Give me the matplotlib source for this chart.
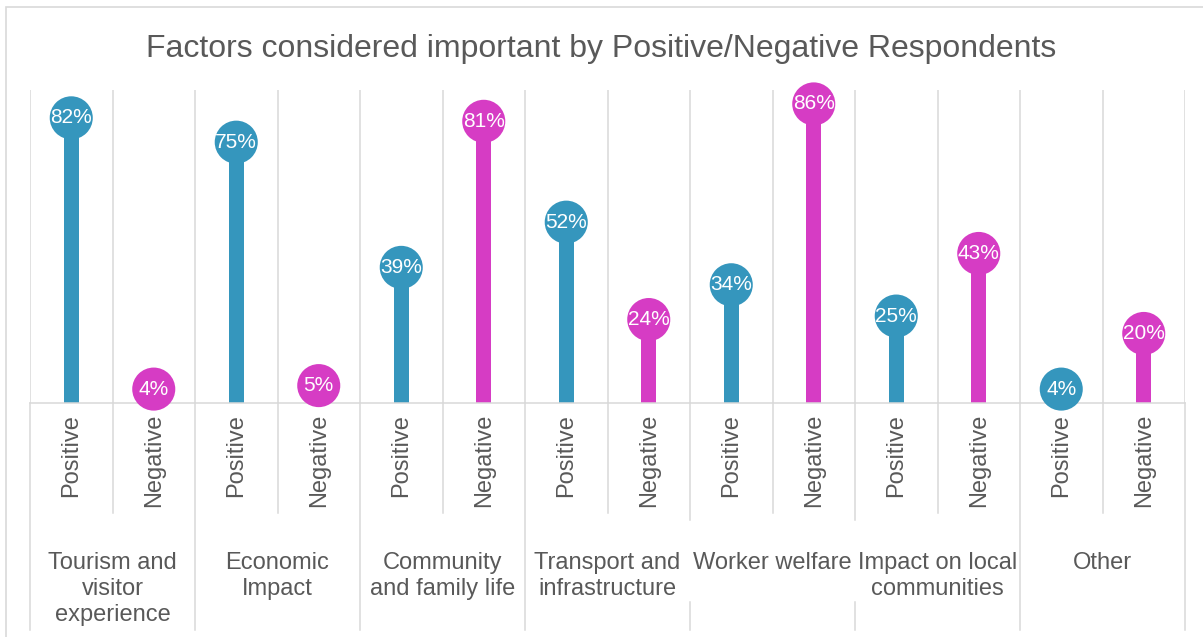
import matplotlib.pyplot as plt
import numpy as np
from matplotlib.patches import Rectangle

plt.rcParams['font.family'] = ['Liberation Sans', 'DejaVu Sans']

categories = ["Tourism and\nvisitor\nexperience", "Economic\nImpact",
              "Community\nand family life", "Transport and\ninfrastructure",
              "Worker welfare", "Impact on local\ncommunities", "Other"]
groups = ["Positive", "Negative"]
positive = [82, 75, 39, 52, 34, 25, 4]
negative = [4, 5, 81, 24, 86, 43, 20]

blue = '#3596BD'
magenta = '#D63CC4'
grid_c = '#D9D9D9'
text_c = '#595959'

values = []
labels = []
colors = []
for p, n in zip(positive, negative):
    values += [p, n]
    labels += groups
    colors += [blue, magenta]
x = np.arange(len(values)) + 0.5

fig = plt.figure(figsize=(12.03, 6.37), dpi=100)
ax = fig.add_axes([30 / 1203, 1 - 403 / 637, (1185 - 30) / 1203, (403 - 90) / 637])
ax.set_xlim(0, len(values))
ax.set_ylim(0, 90)

# outer border of the chart area
fig.patches.append(Rectangle((6 / 1203, -0.1), 1.2, 1.1 - 7 / 637,
                             transform=fig.transFigure, fill=False,
                             edgecolor=grid_c, lw=1.2))

fig.text(0.5, 1 - 57 / 637, "Factors considered important by Positive/Negative Respondents",
         ha='center', va='baseline', fontsize=23, color=text_c)

# gridlines in plot area
ax.vlines(np.arange(len(values) + 1), 0, 90, color=grid_c, lw=1.1, zorder=0)

# category axis separators below the axis
xt = ax.get_xaxis_transform()
sub_end = -(513 - 403) / 313
cat_end = -(630 - 403) / 313
for b in range(len(values) + 1):
    if b % 2 == 1:
        ax.plot([b, b], [0, sub_end], transform=xt, color=grid_c, lw=1.1, clip_on=False)
    elif b in (8, 10):
        ax.plot([b, b], [0, -(520 - 403) / 313], transform=xt, color=grid_c, lw=1.1, clip_on=False)
        ax.plot([b, b], [-(602 - 403) / 313, cat_end], transform=xt, color=grid_c, lw=1.1, clip_on=False)
    else:
        ax.plot([b, b], [0, cat_end], transform=xt, color=grid_c, lw=1.1, clip_on=False)

# lollipops
ax.bar(x, values, width=0.18, color=colors, zorder=2)
ax.scatter(x, values, s=31 ** 2, c=colors, zorder=3, clip_on=False, linewidths=0)
for xi, v in zip(x, values):
    ax.text(xi, v, f"{v}%", ha='center', va='center', color='white', fontsize=15, zorder=4)

ax.set_xticks(x)
ax.set_xticklabels(labels, rotation=90, fontsize=17, color=text_c, va='top')
ax.tick_params(axis='x', length=0, pad=8)
ax.set_yticks([])

for i, cat in enumerate(categories):
    ax.text(2 * i + 1, -(552 - 403) / 313, cat, transform=xt, ha='center', va='top',
            fontsize=17, color=text_c, linespacing=1.25)

for s in ['left', 'right', 'top']:
    ax.spines[s].set_visible(False)
ax.spines['bottom'].set_color(grid_c)
ax.spines['bottom'].set_linewidth(1.1)

fig.savefig('out.png', dpi=100)
